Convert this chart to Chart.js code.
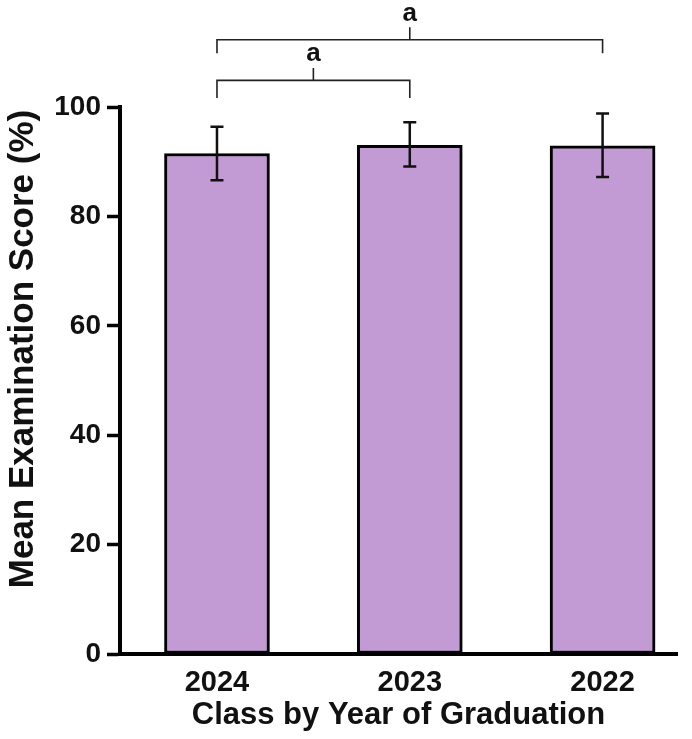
<!DOCTYPE html>
<html>
<head>
<meta charset="utf-8">
<script src="https://cdn.jsdelivr.net/npm/chart.js@4.4.1/dist/chart.umd.min.js"></script>
<style>
  html, body { margin: 0; padding: 0; background: #fff; }
  #wrap { width: 692px; height: 739px; }
</style>
</head>
<body>
<div id="wrap"><canvas id="chart"></canvas></div>
<script>
// data
const years = ['2024', '2023', '2022'];
const meanScores = [91.5, 93.0, 92.9];
const errLow = [86.6, 89.1, 87.2];
const errHigh = [96.4, 97.2, 98.8];
const yTicks = [0, 20, 40, 60, 80, 100];
// significance brackets: [from index, to index, letter]
const comparisons = [[0, 1, 'a'], [0, 2, 'a']];

const FONT = "'Liberation Sans', Arial, sans-serif";

// error bars with caps
const errorBars = {
  id: 'errorBars',
  afterDatasetsDraw(chart) {
    const ctx = chart.ctx, x = chart.scales.x, y = chart.scales.y;
    ctx.save();
    ctx.strokeStyle = '#111';
    ctx.lineWidth = 2.5;
    years.forEach((_, i) => {
      const px = x.getPixelForValue(i);
      const top = y.getPixelForValue(errHigh[i]);
      const bot = y.getPixelForValue(errLow[i]);
      ctx.beginPath();
      ctx.moveTo(px, top); ctx.lineTo(px, bot);
      ctx.moveTo(px - 6.5, top); ctx.lineTo(px + 6.5, top);
      ctx.moveTo(px - 6.5, bot); ctx.lineTo(px + 6.5, bot);
      ctx.stroke();
    });
    ctx.restore();
  }
};

// brackets above the plot + rotated y title
const extras = {
  id: 'extras',
  afterDraw(chart) {
    const ctx = chart.ctx, x = chart.scales.x, area = chart.chartArea;
    ctx.save();
    ctx.strokeStyle = '#222';
    ctx.lineWidth = 1.6;
    ctx.fillStyle = '#111';
    ctx.font = 'bold 26px ' + FONT;
    ctx.textAlign = 'center';
    ctx.textBaseline = 'alphabetic';
    comparisons.forEach(([a, b, lbl], k) => {
      const x1 = x.getPixelForValue(a), x2 = x.getPixelForValue(b);
      const ly = area.top - 26.6 - 40.7 * k;
      const drop = k === 0 ? 17.5 : 13.5;
      const mid = (x1 + x2) / 2;
      ctx.beginPath();
      ctx.moveTo(x1, ly + drop); ctx.lineTo(x1, ly); ctx.lineTo(x2, ly); ctx.lineTo(x2, ly + drop);
      ctx.moveTo(mid, ly); ctx.lineTo(mid, ly - 12.5);
      ctx.stroke();
      ctx.fillText(lbl, mid, ly - 19);
    });

    ctx.translate(23, 349);
    ctx.rotate(-Math.PI / 2);
    ctx.font = 'bold 35px ' + FONT;
    ctx.textBaseline = 'middle';
    ctx.fillText('Mean Examination Score (%)', 0, 0);
    ctx.restore();
  }
};

new Chart(document.getElementById('chart'), {
  type: 'bar',
  data: {
    datasets: [{
      data: meanScores.map((v, i) => ({ x: i, y: v })),
      backgroundColor: '#c39bd4',
      borderColor: '#000',
      borderWidth: 3,
      borderSkipped: false,
      barThickness: 105
    }]
  },
  options: {
    responsive: true,
    maintainAspectRatio: false,
    animation: false,
    layout: { padding: { left: 0, right: 15, top: 107, bottom: 0 } },
    plugins: { legend: { display: false }, tooltip: { enabled: false } },
    scales: {
      x: {
        type: 'linear',
        offset: false,
        min: -0.503,
        max: 2.386,
        grid: { display: false, offset: false },
        border: { display: true, color: '#000', width: 4 },
        afterBuildTicks: s => { s.ticks = years.map((_, i) => ({ value: i })); },
        afterFit: s => { s.height = 85; },
        ticks: {
          color: '#111',
          padding: 4,
          font: { family: FONT, size: 29, weight: 'bold' },
          callback: v => years[v]
        },
        title: {
          display: true,
          text: 'Class by Year of Graduation',
          color: '#111',
          padding: { top: 0, bottom: 5 },
          font: { family: FONT, size: 31, weight: 'bold' }
        }
      },
      y: {
        min: 0,
        max: 100,
        afterBuildTicks: s => { s.ticks = yTicks.map(v => ({ value: v })); },
        afterFit: s => { s.width = 120; },
        grid: { display: true, drawOnChartArea: false, color: '#000', tickLength: 13, tickWidth: 3.5 },
        border: { display: true, color: '#000', width: 4 },
        ticks: {
          color: '#111',
          padding: 6,
          font: { family: FONT, size: 28, weight: 'bold' }
        }
      }
    }
  },
  plugins: [errorBars, extras]
});
</script>
</body>
</html>
